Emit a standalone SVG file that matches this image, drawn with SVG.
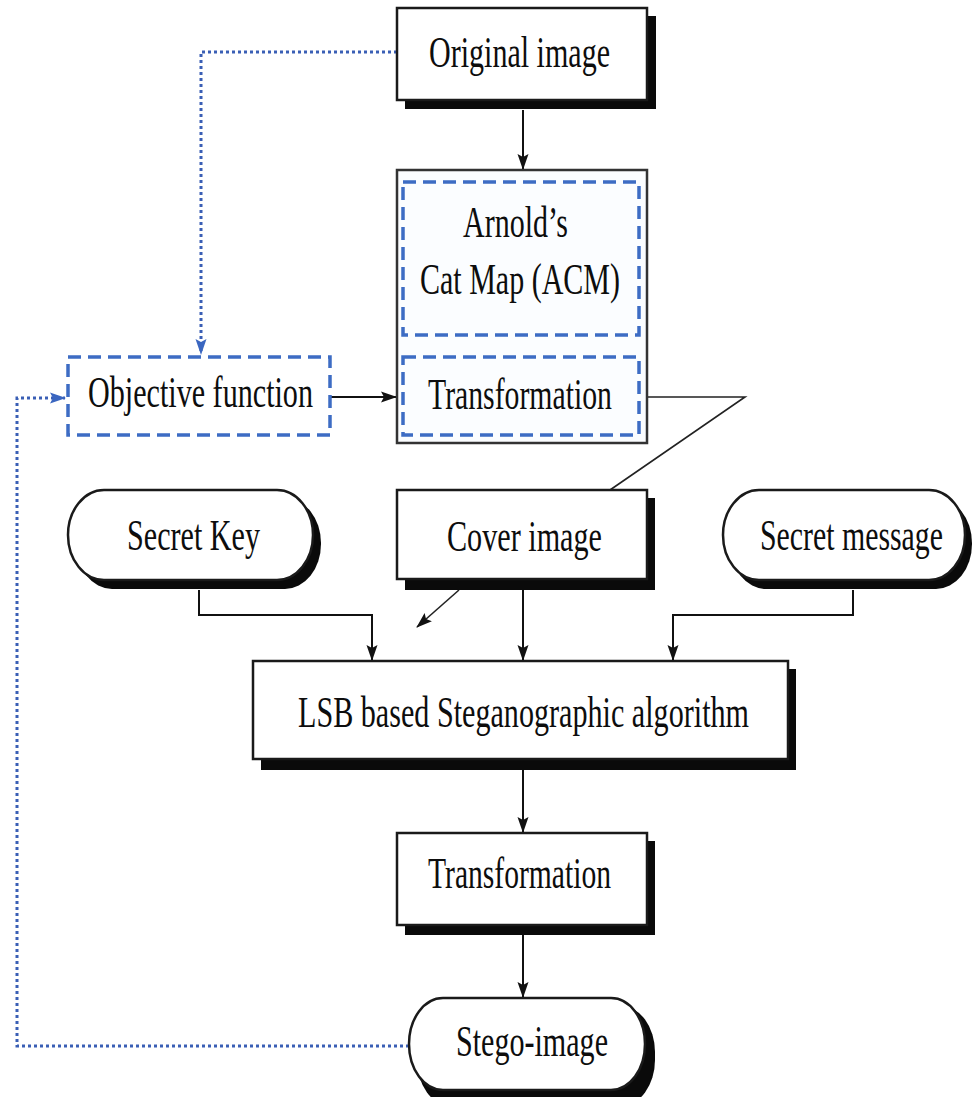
<svg xmlns="http://www.w3.org/2000/svg" width="973" height="1097" viewBox="0 0 973 1097">
<style>
  .box { fill: #ffffff; stroke: #1a1a1a; stroke-width: 2.5; }
  .shadow { fill: #0a0a0a; stroke: none; }
  .dash { fill: none; stroke: #3d6cc4; stroke-width: 3.5; stroke-dasharray: 13 7; }
  .outer { fill: #fbfdff; stroke: #333333; stroke-width: 2.5; }
  .lbl { font-family: "Liberation Serif", "Times New Roman", serif; font-size: 31px; fill: #0d0d0d; }
  .line { fill: none; stroke: #111111; stroke-width: 2; }
  .thin { fill: none; stroke: #222222; stroke-width: 1.6; }
  .dot { fill: none; stroke: #3a5fb5; stroke-width: 3; stroke-dasharray: 3 3; }
</style>
<defs>
  <marker id="ah" viewBox="0 0 16 12" refX="15" refY="6" markerWidth="16" markerHeight="12" markerUnits="userSpaceOnUse" orient="auto">
    <path d="M0,0.5 L16,6 L0,11.5 L3,6 Z" fill="#111111"/>
  </marker>
  <marker id="ahb" viewBox="0 0 16 12" refX="15" refY="6" markerWidth="16" markerHeight="13" markerUnits="userSpaceOnUse" orient="auto">
    <path d="M0,0.5 L16,6 L0,11.5 L3,6 Z" fill="#3a66c0"/>
  </marker>
</defs>

<g id="connectors">
  <path class="dot" d="M397,52 H201 V354" marker-end="url(#ahb)"/>
  <path class="dot" d="M409,1046 H17 V398 H65" marker-end="url(#ahb)"/>
  <path class="line" d="M523,110 V169" marker-end="url(#ah)"/>
  <path class="line" d="M330,397 H396" marker-end="url(#ah)"/>
  <path class="thin" d="M647,397 H745 L610,490"/>
  <path class="thin" d="M459,590 L417,627" marker-end="url(#ah)"/>
  <path class="line" d="M199,590 V615 H372 V660" marker-end="url(#ah)"/>
  <path class="line" d="M523,590 V660" marker-end="url(#ah)"/>
  <path class="line" d="M853,590 V615 H673 V660" marker-end="url(#ah)"/>
  <path class="line" d="M523,770 V832" marker-end="url(#ah)"/>
  <path class="line" d="M523,935 V997" marker-end="url(#ah)"/>
</g>

<g id="original-image">
  <rect class="shadow" x="405" y="16" width="251" height="93"/>
  <rect class="box" x="397" y="8" width="250" height="92"/>
  <text class="lbl" transform="translate(429,67) scale(1,1.4)" textLength="181" lengthAdjust="spacingAndGlyphs">Original image</text>
</g>

<g id="acm">
  <rect class="outer" x="397" y="170" width="250" height="273"/>
  <rect class="dash" x="403" y="182" width="236" height="153"/>
  <text class="lbl" transform="translate(463,237) scale(1,1.4)" textLength="105" lengthAdjust="spacingAndGlyphs">Arnold’s</text>
  <text class="lbl" transform="translate(420,294) scale(1,1.4)" textLength="200" lengthAdjust="spacingAndGlyphs">Cat Map (ACM)</text>
  <rect class="dash" x="403" y="357" width="236" height="78"/>
  <text class="lbl" transform="translate(428,409) scale(1,1.4)" textLength="184" lengthAdjust="spacingAndGlyphs">Transformation</text>
</g>

<g id="objective-function">
  <rect class="dash" x="68" y="357" width="262" height="78"/>
  <text class="lbl" transform="translate(88,407) scale(1,1.4)" textLength="225" lengthAdjust="spacingAndGlyphs">Objective function</text>
</g>

<g id="secret-key">
  <rect class="shadow" x="76" y="498" width="245" height="91" rx="36" ry="45"/>
  <rect class="box" x="68" y="490" width="245" height="90" rx="36" ry="45"/>
  <text class="lbl" transform="translate(127,550) scale(1,1.4)" textLength="133" lengthAdjust="spacingAndGlyphs">Secret Key</text>
</g>

<g id="cover-image">
  <rect class="shadow" x="405" y="498" width="250" height="92"/>
  <rect class="box" x="397" y="490" width="250" height="89"/>
  <text class="lbl" transform="translate(447,551) scale(1,1.4)" textLength="155" lengthAdjust="spacingAndGlyphs">Cover image</text>
</g>

<g id="secret-message">
  <rect class="shadow" x="730" y="498" width="242" height="91" rx="36" ry="45"/>
  <rect class="box" x="723" y="490" width="242" height="90" rx="36" ry="45"/>
  <text class="lbl" transform="translate(760,550) scale(1,1.4)" textLength="183" lengthAdjust="spacingAndGlyphs">Secret message</text>
</g>

<g id="lsb">
  <rect class="shadow" x="261" y="669" width="535" height="101"/>
  <rect class="box" x="253" y="661" width="535" height="98"/>
  <text class="lbl" transform="translate(298,727) scale(1,1.4)" textLength="451" lengthAdjust="spacingAndGlyphs">LSB based Steganographic algorithm</text>
</g>

<g id="transformation">
  <rect class="shadow" x="405" y="841" width="250" height="94"/>
  <rect class="box" x="397" y="833" width="250" height="92"/>
  <text class="lbl" transform="translate(428,888) scale(1,1.4)" textLength="183" lengthAdjust="spacingAndGlyphs">Transformation</text>
</g>

<g id="stego-image">
  <rect class="shadow" x="417" y="1006" width="238" height="100" rx="34" ry="46"/>
  <rect class="box" x="409" y="998" width="236" height="92" rx="34" ry="46"/>
  <text class="lbl" transform="translate(456,1056) scale(1,1.4)" textLength="152" lengthAdjust="spacingAndGlyphs">Stego-image</text>
</g>
</svg>
